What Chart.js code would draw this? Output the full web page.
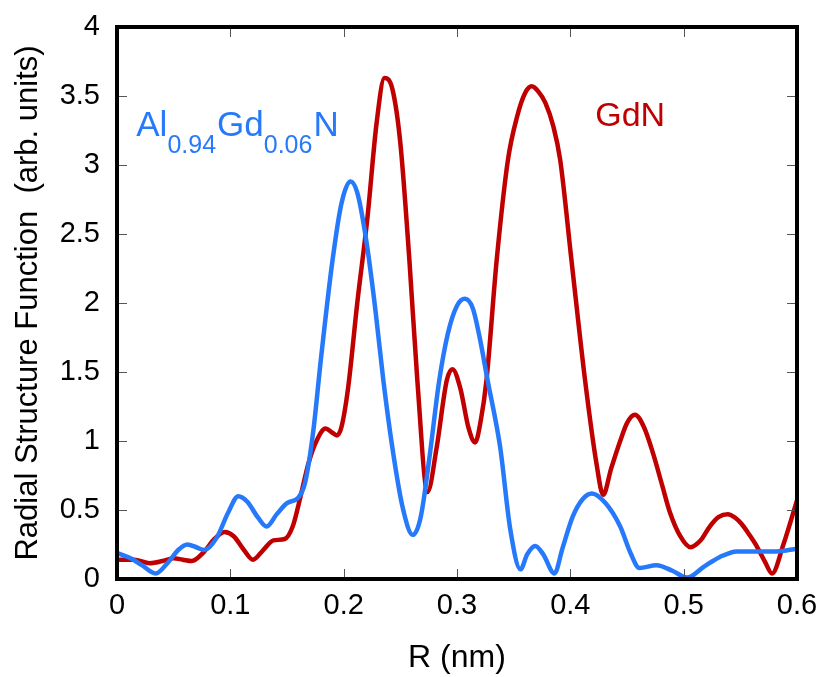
<!DOCTYPE html>
<html>
<head>
<meta charset="utf-8">
<script src="https://cdn.jsdelivr.net/npm/chart.js@4.4.1/dist/chart.umd.min.js"></script>
<style>
  html, body { margin: 0; padding: 0; background: #ffffff; }
  #wrap { width: 824px; height: 677px; position: relative; }
</style>
</head>
<body>
<div id="wrap"><canvas id="rsfChart"></canvas></div>
<script>
// 数据：R (nm) 与径向结构函数值
const alGdNR = [0, 0.012, 0.022, 0.034, 0.045, 0.054, 0.062, 0.07, 0.077, 0.088, 0.098, 0.107, 0.115, 0.124, 0.132, 0.141, 0.15, 0.16, 0.166, 0.173, 0.18, 0.19, 0.198, 0.206, 0.212, 0.22, 0.228, 0.235, 0.243, 0.252, 0.261, 0.268, 0.276, 0.284, 0.292, 0.3, 0.307, 0.314, 0.32, 0.327, 0.338, 0.347, 0.356, 0.362, 0.369, 0.376, 0.386, 0.393, 0.402, 0.411, 0.419, 0.431, 0.444, 0.453, 0.461, 0.476, 0.49, 0.503, 0.518, 0.532, 0.547, 0.565, 0.582, 0.6];
const alGdNValues = [0.19, 0.15, 0.10, 0.04, 0.12, 0.21, 0.25, 0.23, 0.21, 0.30, 0.48, 0.60, 0.56, 0.45, 0.38, 0.47, 0.55, 0.59, 0.70, 1.06, 1.6, 2.3, 2.72, 2.88, 2.80, 2.45, 1.95, 1.44, 0.95, 0.52, 0.32, 0.45, 0.90, 1.42, 1.78, 1.98, 2.03, 1.96, 1.75, 1.44, 0.96, 0.36, 0.07, 0.18, 0.24, 0.18, 0.04, 0.22, 0.45, 0.58, 0.62, 0.55, 0.38, 0.19, 0.08, 0.10, 0.06, 0.01, 0.09, 0.16, 0.20, 0.20, 0.20, 0.22];

const gdNR = [0, 0.015, 0.029, 0.04, 0.05, 0.058, 0.066, 0.076, 0.086, 0.095, 0.103, 0.112, 0.12, 0.129, 0.138, 0.148, 0.155, 0.162, 0.169, 0.176, 0.184, 0.19, 0.194, 0.198, 0.204, 0.212, 0.221, 0.229, 0.236, 0.243, 0.25, 0.258, 0.265, 0.274, 0.282, 0.291, 0.296, 0.303, 0.31, 0.316, 0.321, 0.326, 0.335, 0.345, 0.353, 0.36, 0.366, 0.372, 0.378, 0.385, 0.391, 0.401, 0.413, 0.423, 0.429, 0.436, 0.444, 0.45, 0.457, 0.465, 0.473, 0.481, 0.488, 0.497, 0.506, 0.515, 0.523, 0.531, 0.539, 0.546, 0.551, 0.558, 0.565, 0.572, 0.578, 0.588, 0.6];
const gdNValues = [0.14, 0.14, 0.115, 0.13, 0.15, 0.14, 0.13, 0.19, 0.29, 0.34, 0.31, 0.21, 0.14, 0.21, 0.28, 0.29, 0.38, 0.60, 0.84, 1.0, 1.09, 1.06, 1.04, 1.10, 1.39, 2.0, 2.62, 3.3, 3.63, 3.55, 3.16, 2.31, 1.44, 0.63, 0.95, 1.44, 1.52, 1.38, 1.1, 0.99, 1.15, 1.44, 2.31, 3.04, 3.35, 3.52, 3.57, 3.53, 3.45, 3.28, 3.04, 2.31, 1.44, 0.84, 0.61, 0.80, 1.0, 1.13, 1.19, 1.10, 0.91, 0.68, 0.48, 0.31, 0.23, 0.28, 0.38, 0.45, 0.47, 0.44, 0.40, 0.32, 0.23, 0.12, 0.04, 0.25, 0.57];

const xTickLabels = ['0', '0.1', '0.2', '0.3', '0.4', '0.5', '0.6'];
const yTickLabels = ['0', '0.5', '1', '1.5', '2', '2.5', '3', '3.5', '4'];

const BLUE = 'rgb(38, 121, 250)';
const RED = 'rgb(192, 0, 0)';
const FONT = '"Liberation Sans", Arial, sans-serif';

const toPoints = (xs, ys) => xs.map((x, i) => ({ x: x, y: ys[i] }));

// 边框 + 四边朝内的刻度线 + 曲线标签
const framePlugin = {
  id: 'frame',
  afterDatasetsDraw(chart) {
    const { ctx, chartArea: a, scales } = chart;
    ctx.save();
    ctx.strokeStyle = '#555555';
    ctx.lineWidth = 1;
    const len = 10;
    scales.x.ticks.forEach(t => {
      const px = Math.round(scales.x.getPixelForValue(t.value)) + 0.5;
      ctx.beginPath();
      ctx.moveTo(px, a.bottom); ctx.lineTo(px, a.bottom - len);
      ctx.moveTo(px, a.top); ctx.lineTo(px, a.top + len);
      ctx.stroke();
    });
    scales.y.ticks.forEach(t => {
      const py = Math.round(scales.y.getPixelForValue(t.value)) + 0.5;
      ctx.beginPath();
      ctx.moveTo(a.left, py); ctx.lineTo(a.left + len, py);
      ctx.moveTo(a.right, py); ctx.lineTo(a.right - len, py);
      ctx.stroke();
    });
    ctx.strokeStyle = '#000000';
    ctx.lineWidth = 4;
    ctx.strokeRect(a.left, a.top, a.right - a.left, a.bottom - a.top);

    // Al0.94Gd0.06N 标签（带下标）
    let x = scales.x.getPixelForValue(0.017);
    const base = scales.y.getPixelForValue(3.21);
    ctx.fillStyle = BLUE;
    ctx.textBaseline = 'alphabetic';
    ctx.textAlign = 'left';
    const parts = [['Al', false], ['0.94', true], ['Gd', false], ['0.06', true], ['N', false]];
    parts.forEach(([txt, sub]) => {
      ctx.font = (sub ? '25px ' : '35px ') + FONT;
      ctx.fillText(txt, x, sub ? base + 17 : base);
      x += ctx.measureText(txt).width + (sub ? 1 : 0);
    });

    ctx.fillStyle = RED;
    ctx.font = '34px ' + FONT;
    ctx.fillText('GdN', scales.x.getPixelForValue(0.422), scales.y.getPixelForValue(3.28));
    ctx.restore();
  }
};

new Chart(document.getElementById('rsfChart').getContext('2d'), {
  type: 'line',
  data: {
    datasets: [
      {
        label: 'Al0.94Gd0.06N',
        data: toPoints(alGdNR, alGdNValues),
        borderColor: BLUE,
        borderWidth: 4.5,
        pointRadius: 0,
        fill: false,
        cubicInterpolationMode: 'monotone'
      },
      {
        label: 'GdN',
        data: toPoints(gdNR, gdNValues),
        borderColor: RED,
        borderWidth: 4.5,
        pointRadius: 0,
        fill: false,
        cubicInterpolationMode: 'monotone'
      }
    ]
  },
  options: {
    responsive: true,
    maintainAspectRatio: false,
    animation: false,
    layout: { padding: { top: 27, right: 27, left: 0, bottom: 0 } },
    plugins: {
      legend: { display: false },
      tooltip: { enabled: false }
    },
    scales: {
      x: {
        type: 'linear',
        min: 0,
        max: 0.6,
        afterFit: s => { s.height = 98; s.paddingLeft = 0; s.paddingRight = 0; },
        grid: { display: false, drawTicks: false },
        border: { display: false },
        ticks: {
          stepSize: 0.1,
          padding: 10,
          color: '#000',
          font: { family: FONT, size: 29 },
          callback: (v, i) => xTickLabels[i]
        },
        title: {
          display: true,
          text: 'R (nm)',
          color: '#000',
          font: { family: FONT, size: 32 },
          padding: { top: 20, bottom: 0 }
        }
      },
      y: {
        min: 0,
        max: 4,
        afterFit: s => { s.width = 117; s.paddingTop = 0; s.paddingBottom = 0; },
        grid: { display: false, drawTicks: false },
        border: { display: false },
        ticks: {
          stepSize: 0.5,
          padding: 17,
          color: '#000',
          font: { family: FONT, size: 29 },
          callback: (v, i) => yTickLabels[i]
        },
        title: {
          display: true,
          text: 'Radial Structure Function  (arb. units)',
          color: '#000',
          font: { family: FONT, size: 31 },
          padding: { top: 10, bottom: 0 }
        }
      }
    }
  },
  plugins: [framePlugin]
});
</script>
</body>
</html>
